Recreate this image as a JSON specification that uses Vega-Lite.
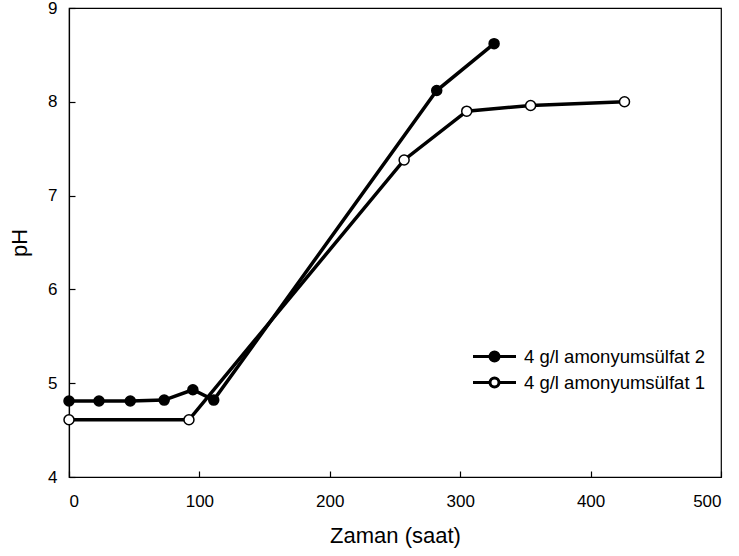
{
  "$schema": "https://vega.github.io/schema/vega-lite/v6.json",
  "width": 652,
  "height": 469,
  "autosize": {"type": "none"},
  "padding": {"left": 69, "top": 8, "right": 18, "bottom": 79},
  "background": "white",
  "config": {
    "font": "Liberation Sans",
    "view": {"stroke": "black", "strokeWidth": 1.2},
    "axis": {
      "grid": false,
      "domainColor": "black",
      "domainWidth": 1.2,
      "tickColor": "black",
      "tickWidth": 1.2,
      "tickSize": -6,
      "labelFont": "Liberation Sans",
      "labelFontSize": 17,
      "labelColor": "black",
      "titleFont": "Liberation Sans",
      "titleFontSize": 22,
      "titleFontWeight": "normal",
      "titleColor": "black"
    }
  },
  "data": {
    "values": [
      {"saat": 0, "pH": 4.81, "seri": "4 g/l amonyumsülfat 2"},
      {"saat": 23, "pH": 4.81, "seri": "4 g/l amonyumsülfat 2"},
      {"saat": 47, "pH": 4.81, "seri": "4 g/l amonyumsülfat 2"},
      {"saat": 73, "pH": 4.82, "seri": "4 g/l amonyumsülfat 2"},
      {"saat": 95, "pH": 4.93, "seri": "4 g/l amonyumsülfat 2"},
      {"saat": 111, "pH": 4.82, "seri": "4 g/l amonyumsülfat 2"},
      {"saat": 282, "pH": 8.12, "seri": "4 g/l amonyumsülfat 2"},
      {"saat": 326, "pH": 8.62, "seri": "4 g/l amonyumsülfat 2"},
      {"saat": 0, "pH": 4.61, "seri": "4 g/l amonyumsülfat 1"},
      {"saat": 92, "pH": 4.61, "seri": "4 g/l amonyumsülfat 1"},
      {"saat": 257, "pH": 7.38, "seri": "4 g/l amonyumsülfat 1"},
      {"saat": 305, "pH": 7.9, "seri": "4 g/l amonyumsülfat 1"},
      {"saat": 354, "pH": 7.96, "seri": "4 g/l amonyumsülfat 1"},
      {"saat": 426, "pH": 8.0, "seri": "4 g/l amonyumsülfat 1"}
    ]
  },
  "encoding": {
    "x": {
      "field": "saat",
      "type": "quantitative",
      "title": "Zaman (saat)",
      "scale": {"domain": [0, 500], "nice": false, "zero": false},
      "axis": {"values": [0, 100, 200, 300, 400, 500], "labelPadding": 22, "titlePadding": 16}
    },
    "y": {
      "field": "pH",
      "type": "quantitative",
      "title": "pH",
      "scale": {"domain": [4, 9], "nice": false, "zero": false},
      "axis": {"values": [4, 5, 6, 7, 8, 9], "labelPadding": 18, "titlePadding": 16}
    }
  },
  "layer": [
    {
      "mark": {"type": "line", "color": "black", "strokeWidth": 3.5},
      "encoding": {"detail": {"field": "seri"}}
    },
    {
      "mark": {"type": "point", "shape": "circle", "filled": true, "stroke": "black", "strokeWidth": 1.5, "size": 100, "opacity": 1},
      "encoding": {
        "fill": {
          "field": "seri",
          "type": "nominal",
          "scale": {"domain": ["4 g/l amonyumsülfat 2", "4 g/l amonyumsülfat 1"], "range": ["black", "white"]},
          "legend": {
            "title": null,
            "orient": "none",
            "legendX": 414,
            "legendY": 337,
            "padding": 0,
            "rowPadding": 4,
            "symbolType": "M-2.15,0H-0.45M0.45,0H2.15M-0.45,0A0.45,0.45,0,1,1,0.45,0A0.45,0.45,0,1,1,-0.45,0",
            "symbolSize": 400,
            "symbolStrokeColor": "black",
            "symbolStrokeWidth": 3,
            "symbolOpacity": 1,
            "labelOffset": 18,
            "labelFont": "Liberation Sans",
            "labelFontSize": 18.5,
            "labelColor": "black",
            "labelLimit": 400
          }
        }
      }
    }
  ]
}
